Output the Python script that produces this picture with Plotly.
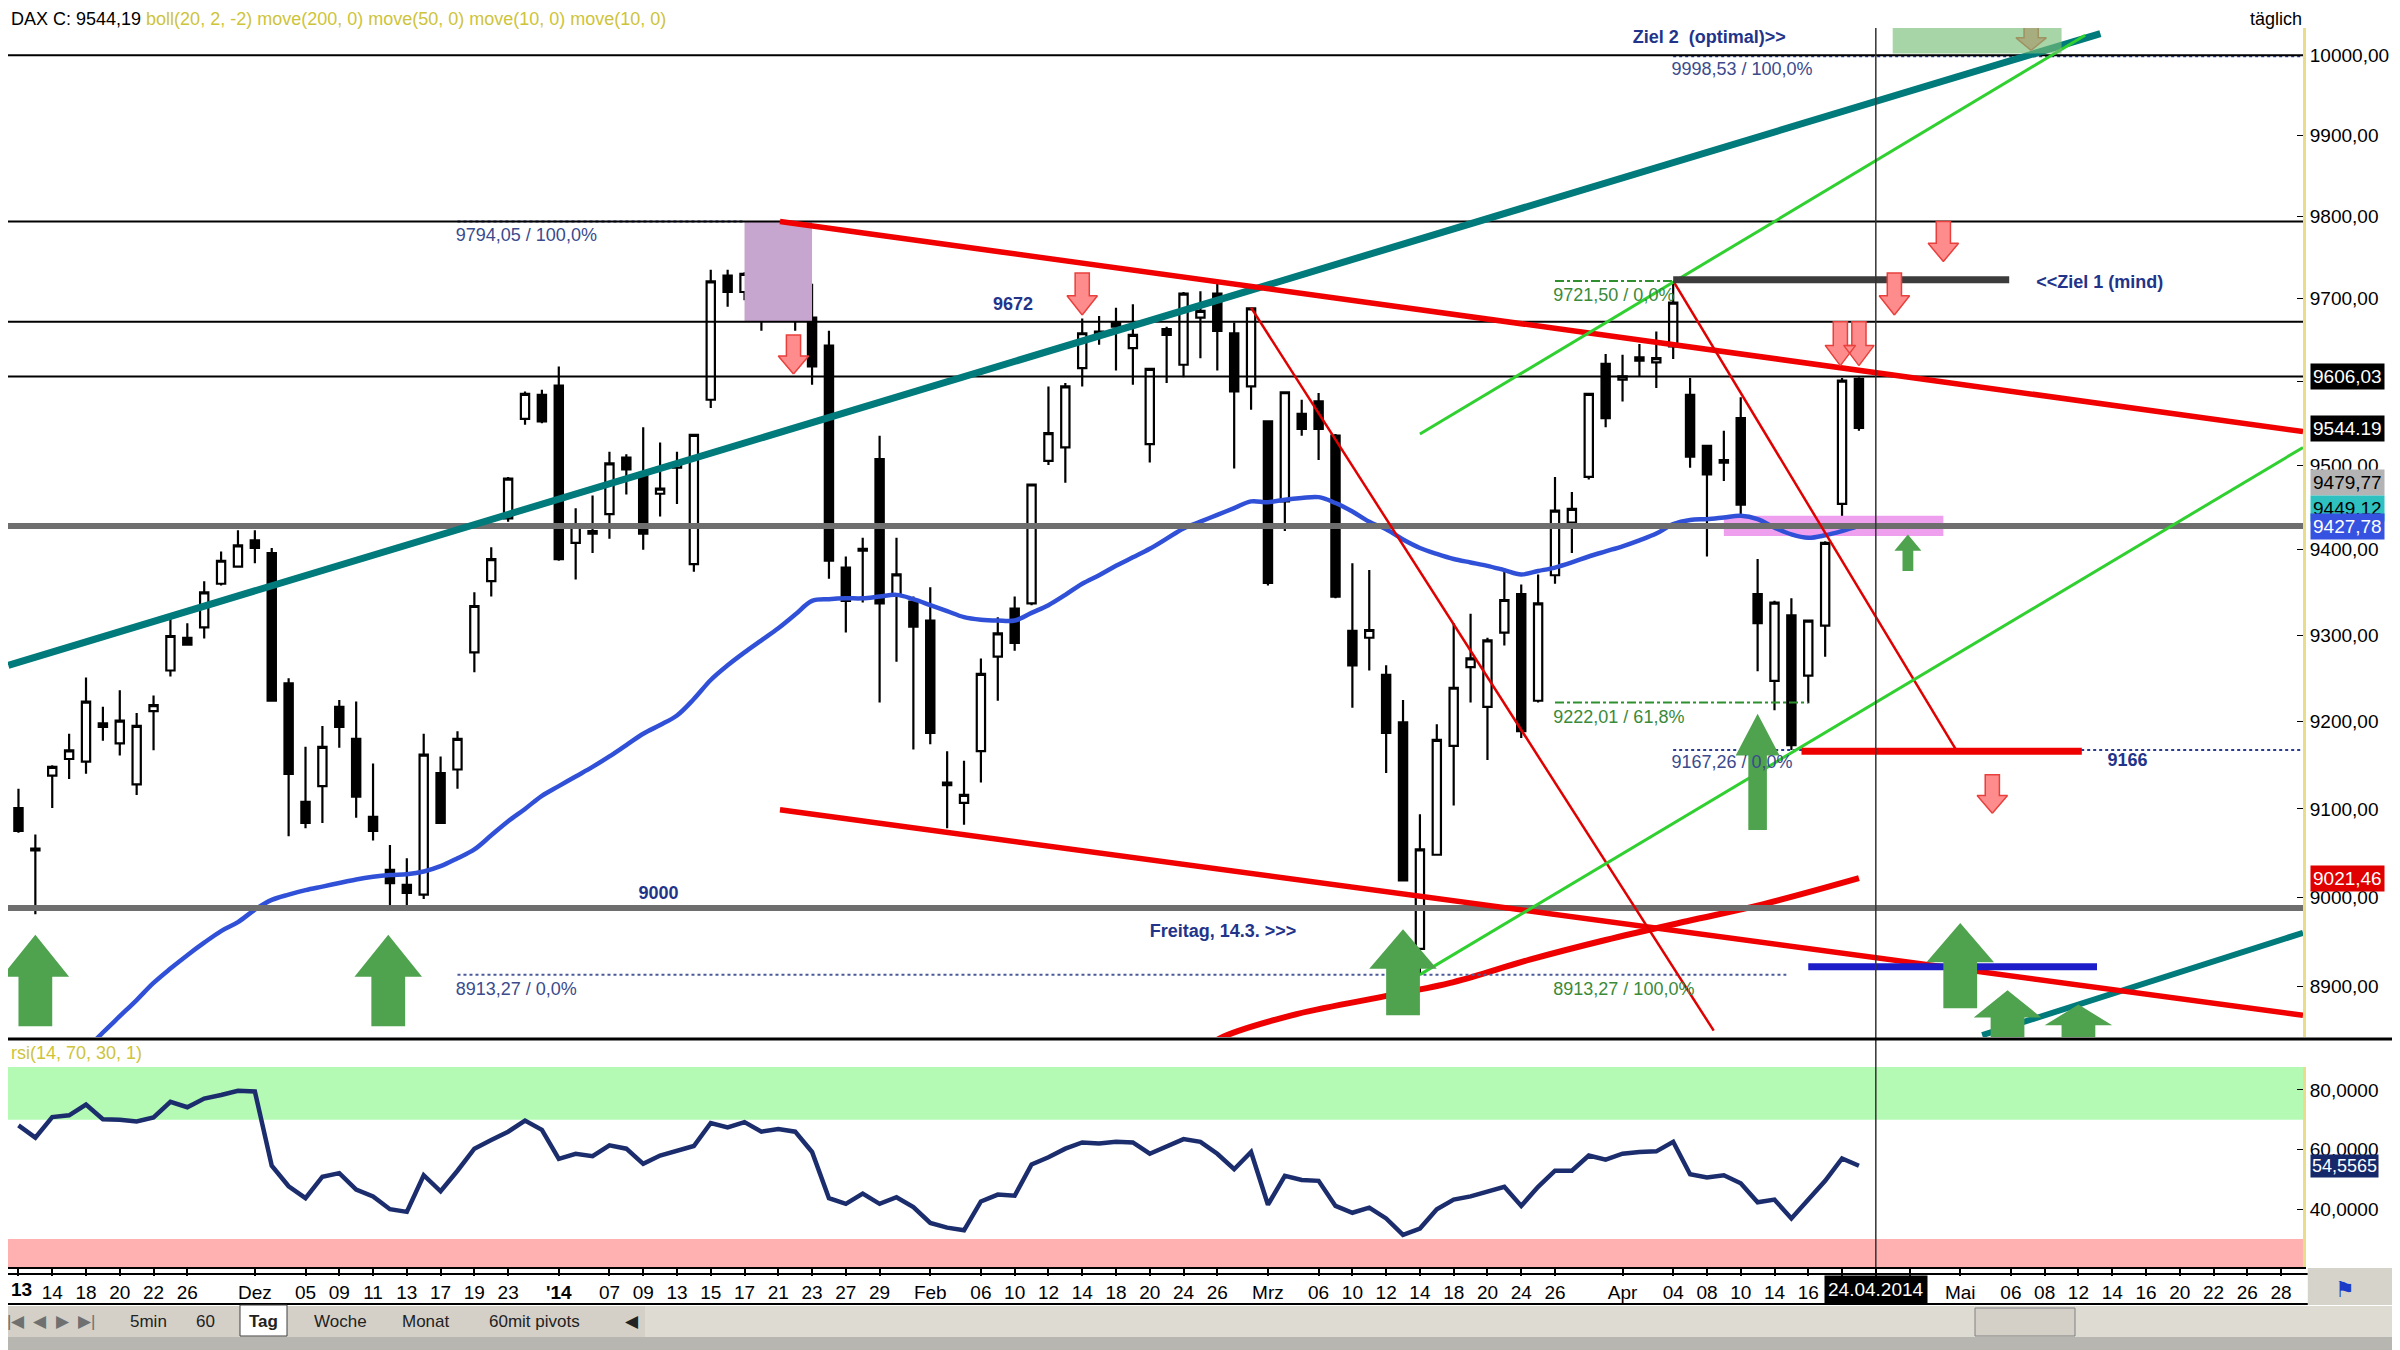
import numpy as np
import pandas as pd
import plotly.graph_objects as go

W, H = 2400, 1350
OFF = 8                      # page margin of the html body
FW, FH = W - OFF, H - OFF
FONT = "Liberation Sans Narrow, Arial Narrow, Liberation Sans, Arial, sans-serif"

# trading days on the chart (future part shown as plain weekdays)
holidays = ['2013-12-24', '2013-12-25', '2013-12-26', '2013-12-31', '2014-01-01',
            '2014-04-18', '2014-04-21']
days = pd.bdate_range('2013-11-12', '2014-05-30')
days = days[~days.isin(pd.to_datetime(holidays))]
pos = {d.strftime('%Y-%m-%d'): i for i, d in enumerate(days)}

# daily DAX candles 12.11.2013 - 23.04.2014
opens = [9101, 9055, 9138, 9157, 9154, 9198, 9175, 9128, 9212, 9259, 9297, 9309, 9360, 9380, 9411,
         9396, 9244, 9108, 9126, 9217, 9180, 9091, 9031, 9014, 9003, 9141, 9145, 9280, 9363, 9437,
         9555, 9584, 9595, 9408, 9422, 9442, 9509, 9489, 9466, 9497, 9383, 9578, 9728, 9708, 9704,
         9740, 9740, 9677, 9643, 9379, 9401, 9507, 9347, 9339, 9317, 9130, 9107, 9166, 9275, 9331,
         9337, 9505, 9521, 9616, 9660, 9671, 9640, 9525, 9663, 9620, 9677, 9706, 9658, 9594, 9552,
         9457, 9561, 9576, 9535, 9305, 9297, 9254, 9199, 8942, 9048, 9172, 9263, 9217, 9303, 9348,
         9224, 9370, 9432, 9486, 9621, 9602, 9625, 9623, 9642, 9584, 9523, 9503, 9556, 9348, 9247,
         9323, 9253, 9311, 9454, 9603]
highs = [9123, 9071, 9150, 9186, 9251, 9217, 9236, 9210, 9230, 9320, 9314, 9363, 9398, 9423, 9423,
         9402, 9250, 9171, 9195, 9225, 9223, 9152, 9059, 9044, 9186, 9160, 9189, 9350, 9403, 9486,
         9588, 9590, 9618, 9449, 9464, 9516, 9513, 9545, 9527, 9516, 9537, 9735, 9735, 9732, 9721,
         9794, 9766, 9718, 9661, 9392, 9414, 9535, 9414, 9345, 9356, 9166, 9155, 9273, 9321, 9345,
         9478, 9594, 9598, 9676, 9679, 9689, 9693, 9616, 9666, 9708, 9709, 9722, 9671, 9689, 9553,
         9588, 9578, 9586, 9537, 9384, 9376, 9265, 9225, 9094, 9197, 9314, 9325, 9297, 9378, 9359,
         9371, 9486, 9468, 9585, 9633, 9632, 9645, 9660, 9721.5, 9604, 9524, 9541, 9581, 9389, 9340,
         9343, 9318, 9410, 9604, 9605]
lows = [9073, 8981, 9101, 9134, 9140, 9178, 9161, 9116, 9167, 9252, 9288, 9296, 9358, 9379, 9384,
        9223, 9069, 9078, 9084, 9170, 9090, 9064, 8985, 8991, 8998, 9083, 9123, 9257, 9345, 9433,
        9548, 9550, 9387, 9365, 9396, 9413, 9465, 9400, 9439, 9454, 9374, 9568, 9690, 9698, 9661,
        9702, 9661, 9596, 9366, 9303, 9338, 9222, 9269, 9168, 9174, 9078, 9082, 9130, 9224, 9282,
        9335, 9500, 9479, 9594, 9644, 9613, 9596, 9503, 9598, 9605, 9628, 9613, 9496, 9566, 9358,
        9422, 9535, 9506, 9343, 9216, 9259, 9141, 9018, 8913.27, 9048, 9104, 9222, 9156, 9288, 9181,
        9222, 9360, 9396, 9483, 9545, 9576, 9606, 9592, 9627, 9497, 9392, 9481, 9440, 9258, 9213,
        9167.26, 9221, 9275, 9439, 9541]
closes = [9075, 9053, 9148, 9167, 9223, 9194, 9201, 9195, 9219, 9299, 9289, 9350, 9387, 9405, 9402,
          9224, 9140, 9084, 9171, 9194, 9114, 9075, 9016, 9005, 9162, 9084, 9180, 9334, 9389, 9484,
          9585, 9552, 9389, 9429, 9419, 9502, 9495, 9419, 9472, 9502, 9536, 9721, 9708, 9730, 9700,
          9718, 9708, 9618, 9387, 9340, 9399, 9337, 9371, 9310, 9187, 9127, 9116, 9255, 9302, 9291,
          9477, 9538, 9594, 9658, 9656, 9666, 9656, 9615, 9656, 9706, 9685, 9661, 9588, 9688, 9361,
          9587, 9543, 9543, 9345, 9265, 9306, 9187, 9019, 9054, 9179, 9239, 9273, 9294, 9341, 9189,
          9337, 9446, 9448, 9585, 9556, 9606, 9629, 9628, 9695, 9510, 9489, 9506, 9453, 9314, 9338,
          9173, 9317, 9408, 9601, 9544.19]

rsi = [68.1, 64.0, 70.9, 71.5, 75.1, 70.2, 70.0, 69.4, 70.8, 76.0, 74.2, 77.1, 78.3, 79.7, 79.5,
       54.6, 47.7, 43.7, 50.9, 52.1, 46.6, 44.3, 40.0, 39.1, 51.4, 46.0, 52.9, 60.3, 63.2, 66.0,
       69.7, 66.6, 56.9, 58.6, 57.8, 61.4, 60.3, 55.2, 58.0, 59.7, 61.2, 68.9, 67.4, 69.2, 66.0,
       66.9, 66.0, 59.2, 43.7, 41.8, 45.2, 41.8, 44.0, 40.7, 35.4, 33.8, 32.9, 42.6, 44.9, 44.5,
       55.0, 57.4, 60.3, 62.4, 62.0, 62.6, 62.4, 58.6, 60.9, 63.5, 62.6, 58.6, 53.4, 59.2, 41.5,
       51.2, 49.8, 49.5, 41.1, 38.8, 40.5, 36.9, 31.4, 33.5, 40.0, 43.2, 44.3, 46.0, 47.5, 41.1,
       47.5, 52.9, 52.9, 58.0, 56.6, 58.6, 59.2, 59.4, 62.6, 51.7, 50.6, 51.4, 48.7, 42.3, 43.2,
       36.9, 43.2, 49.5, 57.0, 54.56]

# move(50) line, starting at candle 4
ma50_start = 4
ma50 = [8830, 8849, 8867, 8885, 8904, 8920, 8935, 8949, 8962, 8972, 8986, 8997, 9003, 9008, 9012,
        9016, 9020, 9023, 9025, 9026, 9029, 9035, 9044, 9054, 9070, 9086, 9100, 9115, 9126, 9137,
        9148, 9160, 9173, 9186, 9196, 9207, 9226, 9248, 9265, 9280, 9294, 9308, 9324, 9340, 9342,
        9343, 9343, 9345, 9347, 9342, 9335, 9328, 9321, 9318, 9317, 9317, 9326, 9335, 9347, 9360,
        9370, 9381, 9391, 9401, 9413, 9425, 9433, 9441, 9449, 9457, 9456, 9459, 9461, 9462, 9455,
        9445, 9433, 9424, 9412, 9402, 9395, 9389, 9385, 9381, 9376, 9371, 9375, 9379, 9385, 9392,
        9398, 9404, 9411, 9419, 9430, 9435, 9436, 9438, 9440, 9436, 9426, 9418, 9414, 9417, 9422,
        9428]
# move(200) line (only its top end is visible)
ma200_x = [70, 71.1, 75.4, 80.6, 85, 89.5, 94, 98.8, 103.3, 109]
ma200_y = [8826, 8842, 8868, 8888, 8905, 8930, 8952, 8973, 8992, 9021.46]

# drawn trend lines (x in trading-day index, y in points)
teal_x, teal_y = [-0.6, 123.3], [9265, 10027]
teal2_x, teal2_y = [116.3, 135.3], [8846, 8960]
red_up_x, red_up_y = [45.1, 135.3], [9794, 9540]
red_lo_x, red_lo_y = [45.1, 135.3], [9099, 8868]
red_thin1_x, red_thin1_y = [73, 100.4], [9689, 8851]
red_thin2_x, red_thin2_y = [98, 114.8], [9721.5, 9166]
green_up_x, green_up_y = [83, 122.4], [9537, 10025]
green_lo_x, green_lo_y = [83, 135.3], [8913.27, 9521]

black_levels = [10000, 9794.05, 9672, 9606.03]
gray_levels = [9428, 8988]

fib_x0 = [26, 26, 98, 98, 91, 91]
fib_x1 = [43, 104.7, 135.3, 135.3, 98, 106]
fib_lvl = [9794.05, 8913.27, 9998.53, 9167.26, 9721.5, 9222.01]
fib_col = ['#2b3c8c', '#4a5a9a', '#2b3c8c', '#2b3c8c', '#2f8f2f', '#2f8f2f']

bar_x0 = [98, 105.6, 106]
bar_x1 = [117.9, 122.2, 123.1]
bar_lvl = [9723, 9166, 8922]
bar_col = ['#3c3c3c', '#ee0000', '#1c1cc8']

box_x = {'purple': [43, 47], 'pink': [101, 114], 'green': [111, 121]}
box_y = {'purple': [9672, 9794.05], 'pink': [9416, 9440], 'green': [10002, 10036]}

red_arrow_x = [45.9, 63.0, 107.9, 109.0, 111.1, 114.0, 116.9, 119.2]
red_arrow_tip = [9609, 9680, 9619, 9619, 9680, 9745, 9095, 10006]
red_arrow_tail = [9656, 9731, 9672, 9672, 9731, 9794, 9139, 10040]
green_arrow_x = [1.0, 21.9, 82.0, 115.0, 117.8, 122.0]
green_arrow_tip = [8958, 8958, 8964, 8971, 8896, 8880]
green_arrow_tail = [8856, 8856, 8868, 8876, 8830, 8830]
mid_arrow = (103.0, 9209, 9076)
small_arrow = (111.9, 9418, 9375)

label_text = ['9794,05 / 100,0%', '8913,27 / 0,0%', '9998,53 / 100,0%', '9167,26 / 0,0%',
              '9721,50 / 0,0%', '9222,01 / 61,8%', '8913,27 / 100,0%']
label_x = [25.9, 25.9, 97.9, 97.9, 90.9, 90.9, 90.9]
label_y = [9776, 8896, 9981, 9152, 9703, 9204, 8896]
label_col = ['#3b4b8c'] * 4 + ['#3a8a3a'] * 3

bold_text = ['9000', '9672', '9166', '&lt;&lt;Ziel 1 (mind)', 'Ziel 2  (optimal)&gt;&gt;',
             'Freitag, 14.3. &gt;&gt;&gt;']
bold_x = [37.9, 58.9, 124.9, 119.5, 95.6, 67.0]
bold_y = [9003, 9692, 9154, 9718, 10021, 8960]
bold_pos = ['middle center', 'middle center', 'middle center', 'middle right', 'middle right',
            'middle right']

tag_val = [9606.03, 9544.19, 9479.77, 9449.12, 9427.78, 9021.46]
tag_text = ['9606,03', '9544.19', '9479,77', '9449,12', '9427,78', '9021,46']
tag_bg = ['black', 'black', '#b4b4b4', '#2fc0c0', '#3552e0', '#e00000']
tag_fg = ['white', 'white', 'black', 'black', 'white', 'white']

tick_dates = ['2013-11-12', '2013-11-14', '2013-11-18', '2013-11-20', '2013-11-22', '2013-11-26',
              '2013-12-02', '2013-12-05', '2013-12-09', '2013-12-11', '2013-12-13', '2013-12-17',
              '2013-12-19', '2013-12-23', '2014-01-02', '2014-01-07', '2014-01-09', '2014-01-13',
              '2014-01-15', '2014-01-17', '2014-01-21', '2014-01-23', '2014-01-27', '2014-01-29',
              '2014-02-03', '2014-02-06', '2014-02-10', '2014-02-12', '2014-02-14', '2014-02-18',
              '2014-02-20', '2014-02-24', '2014-02-26', '2014-03-03', '2014-03-06', '2014-03-10',
              '2014-03-12', '2014-03-14', '2014-03-18', '2014-03-20', '2014-03-24', '2014-03-26',
              '2014-04-01', '2014-04-04', '2014-04-08', '2014-04-10', '2014-04-14', '2014-04-16',
              '2014-04-22', '2014-04-24', '2014-04-28', '2014-05-01', '2014-05-06', '2014-05-08',
              '2014-05-12', '2014-05-14', '2014-05-16', '2014-05-20', '2014-05-22', '2014-05-26',
              '2014-05-28']
# first label ('13) is cut at the left edge, written separately below
tick_text = ['', '14', '18', '20', '22', '26', 'Dez', '05', '09', '11', '13', '17', '19',
             '23', "<b>'14</b>", '07', '09', '13', '15', '17', '21', '23', '27', '29', 'Feb', '06',
             '10', '12', '14', '18', '20', '24', '26', 'Mrz', '06', '10', '12', '14', '18', '20',
             '24', '26', 'Apr', '04', '08', '10', '14', '16', '', '', '', 'Mai', '06', '08', '12',
             '14', '16', '20', '22', '26', '28']
cursor_date = '2014-04-24'

price_ticks = list(range(8900, 10001, 100))
price_tick_text = ['' if v == 9600 else '%d,00' % v for v in price_ticks]  # 9600 sits under the crosshair tag
rsi_ticks = [40, 60, 80]


def py(v):
    return 1 - (v - OFF) / FH


def px(v):
    return (v - OFF) / FW


XR = [-0.62, 135.3]
XD = [px(8), px(2303)]
YD_MAIN = [py(1037), py(28)]
YD_RSI = [py(1267), py(1067)]


def block_arrow(xc, tip, tail, head_hw, shaft_hw, head_frac):
    lt, lb = np.log10(tip), np.log10(tail)
    neck = 10 ** (lt + (lb - lt) * head_frac)
    xs = [xc, xc + head_hw, xc + shaft_hw, xc + shaft_hw, xc - shaft_hw, xc - shaft_hw, xc - head_hw, xc, None]
    ys = [tip, neck, neck, tail, tail, neck, neck, tip, None]
    return xs, ys


fig = go.Figure()

def seg(x, y, color, width, dash='solid', shape='linear'):
    fig.add_trace(go.Scatter(x=x, y=y, mode='lines', line=dict(color=color, width=width, dash=dash, shape=shape),
                             hoverinfo='skip', xaxis='x', yaxis='y'))

def box(name, color, opacity=1.0):
    x0, x1 = box_x[name]
    y0, y1 = box_y[name]
    fig.add_trace(go.Scatter(x=[x0, x1, x1, x0, x0], y=[y0, y0, y1, y1, y0], mode='lines', fill='toself',
                             fillcolor=color, line=dict(width=0), opacity=opacity, hoverinfo='skip',
                             xaxis='x', yaxis='y'))

box('purple', 'rgb(198,166,206)')
box('pink', 'rgb(238,160,238)')

# moving averages
seg(list(range(ma50_start, ma50_start + len(ma50))), ma50, '#3050d8', 4.5, shape='spline')
seg(ma200_x, ma200_y, '#ee0000', 6, shape='spline')

# fib lines
for x0, x1, lv, c in zip(fib_x0, fib_x1, fib_lvl, fib_col):
    seg([x0, x1], [lv, lv], c, 2, dash='dot' if c != '#2f8f2f' else 'dashdot')

fig.add_trace(go.Candlestick(
    x=list(range(len(opens))), open=opens, high=highs, low=lows, close=closes,
    increasing=dict(line=dict(color='black', width=2.2), fillcolor='white'),
    decreasing=dict(line=dict(color='black', width=2.2), fillcolor='black'),
    whiskerwidth=0, hoverinfo='skip', xaxis='x', yaxis='y'))

for lv in gray_levels:
    seg(XR, [lv, lv], '#6e6e6e', 6)
for lv in black_levels:
    seg(XR, [lv, lv], 'black', 2)

# trend lines
seg(teal_x, teal_y, '#007a7a', 7)
seg(teal2_x, teal2_y, '#007a7a', 6)
seg(red_up_x, red_up_y, '#f00000', 5.5)
seg(red_lo_x, red_lo_y, '#f00000', 5.5)
seg(red_thin1_x, red_thin1_y, '#e00000', 2.5)
seg(red_thin2_x, red_thin2_y, '#e00000', 2.5)
seg(green_up_x, green_up_y, '#2fd02f', 3)
seg(green_lo_x, green_lo_y, '#2fd02f', 3)

for x0, x1, lv, c in zip(bar_x0, bar_x1, bar_lvl, bar_col):
    seg([x0, x1], [lv, lv], c, 7)

# arrows
ax, ay = [], []
for xc, t, b in zip(red_arrow_x, red_arrow_tip, red_arrow_tail):
    xs, ys = block_arrow(xc, t, b, 0.9, 0.42, 0.46)
    ax += xs
    ay += ys
fig.add_trace(go.Scatter(x=ax, y=ay, mode='lines', fill='toself', fillcolor='#ff8c8c',
                         line=dict(color='#e8403c', width=1.5), hoverinfo='skip', xaxis='x', yaxis='y'))
gx, gy = [], []
for xc, t, b in zip(green_arrow_x, green_arrow_tip, green_arrow_tail):
    xs, ys = block_arrow(xc, t, b, 2.0, 1.0, 0.46)
    gx += xs
    gy += ys
xs, ys = block_arrow(*mid_arrow, 1.3, 0.55, 0.36)
gx += xs
gy += ys
xs, ys = block_arrow(*small_arrow, 0.8, 0.32, 0.45)
gx += xs
gy += ys
fig.add_trace(go.Scatter(x=gx, y=gy, mode='lines', fill='toself', fillcolor='#4fa34f',
                         line=dict(width=0), hoverinfo='skip', xaxis='x', yaxis='y'))

box('green', 'rgb(120,190,120)', opacity=0.65)

# texts
fig.add_trace(go.Scatter(x=label_x, y=label_y, mode='text', text=label_text, textposition='middle right',
                         textfont=dict(family=FONT, size=18, color=label_col), hoverinfo='skip',
                         xaxis='x', yaxis='y'))
fig.add_trace(go.Scatter(x=bold_x, y=bold_y, mode='text', text=['<b>%s</b>' % t for t in bold_text],
                         textposition=bold_pos, textfont=dict(family=FONT, size=18, color='#22348a'),
                         hoverinfo='skip', xaxis='x', yaxis='y'))

# rsi panel
fig.add_trace(go.Scatter(x=list(range(len(rsi))), y=rsi, mode='lines', line=dict(color='#1b2d6d', width=4.5),
                         hoverinfo='skip', xaxis='x2', yaxis='y2'))

shapes = [
    dict(type='rect', xref='x2', yref='y2', x0=XR[0], x1=XR[1], y0=70, y1=87.7,
         fillcolor='rgb(180,250,180)', line=dict(width=0), layer='below'),
    dict(type='rect', xref='x2', yref='y2', x0=XR[0], x1=XR[1], y0=20.6, y1=30,
         fillcolor='rgb(255,176,176)', line=dict(width=0), layer='below'),
    # cursor
    dict(type='line', xref='x', yref='paper', x0=pos[cursor_date], x1=pos[cursor_date],
         y0=YD_RSI[0], y1=YD_MAIN[1], line=dict(color='#333333', width=1.5)),
    # panel separator
    dict(type='line', xref='paper', yref='paper', x0=0, x1=1, y0=py(1039), y1=py(1039),
         line=dict(color='black', width=3)),
    # date row frame
    dict(type='line', xref='paper', yref='paper', x0=0, x1=XD[1] + 0.002, y0=py(1274), y1=py(1274),
         line=dict(color='black', width=2)),
    dict(type='rect', xref='paper', yref='paper', x0=XD[1] + 0.002, x1=1, y0=py(1305), y1=py(1268),
         fillcolor='#d6d3cb', line=dict(width=0)),
    dict(type='line', xref='paper', yref='paper', x0=0, x1=XD[1] + 0.002, y0=py(1304), y1=py(1304),
         line=dict(color='black', width=2)),
    # tab bar
    dict(type='rect', xref='paper', yref='paper', x0=0, x1=1, y0=py(1337), y1=py(1306),
         fillcolor='#dedbd3', line=dict(width=0)),
    dict(type='rect', xref='paper', yref='paper', x0=0, x1=1, y0=0, y1=py(1337),
         fillcolor='#b8b6b0', line=dict(width=0)),
    dict(type='rect', xref='paper', yref='paper', x0=0, x1=px(645), y0=py(1337), y1=py(1306),
         fillcolor='#d4d0c8', line=dict(width=0)),
    dict(type='rect', xref='paper', yref='paper', x0=px(240), x1=px(287), y0=py(1336), y1=py(1305),
         fillcolor='white', line=dict(color='#404040', width=1)),
    dict(type='rect', xref='paper', yref='paper', x0=px(1975), x1=px(2075), y0=py(1336), y1=py(1308),
         fillcolor='#d4d0c8', line=dict(color='#808080', width=1)),
]

annotations = [
    dict(xref='paper', yref='paper', x=px(9), y=py(19), xanchor='left', yanchor='middle', showarrow=False,
         text="DAX C: 9544,19 <span style='color:#cdc43a'>boll(20, 2, -2) move(200, 0) move(50, 0) "
              "move(10, 0) move(10, 0)</span>",
         font=dict(family=FONT, size=18, color='black')),
    dict(xref='paper', yref='paper', x=px(2276), y=py(19), xanchor='center', yanchor='middle', showarrow=False,
         text='täglich', font=dict(family=FONT, size=18, color='black')),
    dict(xref='paper', yref='paper', x=px(9), y=py(1053), xanchor='left', yanchor='middle', showarrow=False,
         text='rsi(14, 70, 30, 1)', font=dict(family=FONT, size=18, color='#cdc43a')),
    dict(xref='paper', yref='paper', x=px(9), y=py(1289), xanchor='left', yanchor='middle', showarrow=False,
         text='<b>13</b>', font=dict(family=FONT, size=19, color='black')),
    dict(xref='x2', yref='paper', x=pos[cursor_date], y=py(1289), xanchor='center', yanchor='middle',
         showarrow=False, text='24.04.2014', bgcolor='black', borderpad=3,
         font=dict(family=FONT, size=19, color='white')),
    dict(xref='paper', yref='paper', x=px(2345), y=py(1289), xanchor='center', yanchor='middle',
         showarrow=False, text='⚑', font=dict(size=22, color='#1c3cc8')),
]
for v, t, bg, fg in zip(tag_val, tag_text, tag_bg, tag_fg):
    annotations.append(dict(xref='paper', yref='y', x=px(2310), y=np.log10(v), xanchor='left',
                            yanchor='middle', showarrow=False, text=t, bgcolor=bg, borderpad=2,
                            font=dict(family=FONT, size=19, color=fg)))
annotations.append(dict(xref='paper', yref='y2', x=px(2310), y=rsi[-1], xanchor='left', yanchor='middle',
                        showarrow=False, text='54,5565', bgcolor='#15286a', borderpad=1,
                        font=dict(family=FONT, size=18, color='white')))

tabs = ['|◀', '◀', '▶', '▶|', '5min', '60', '<b>Tag</b>', 'Woche', 'Monat', '60mit pivots', '◀']
tab_x = [16, 40, 63, 86, 148, 205, 263, 340, 426, 534, 632]
for t, x in zip(tabs, tab_x):
    annotations.append(dict(xref='paper', yref='paper', x=px(x), y=py(1321), xanchor='center',
                            yanchor='middle', showarrow=False, text=t,
                            font=dict(family=FONT, size=17, color='#222222' if x > 100 else '#707070')))

fig.update_layout(
    width=FW, height=FH, margin=dict(l=0, r=0, t=0, b=0), template='none',
    paper_bgcolor='white', plot_bgcolor='white', showlegend=False,
    font=dict(family=FONT, size=18, color='black'),
    shapes=shapes, annotations=annotations,
    xaxis=dict(domain=XD, range=XR, anchor='y', showticklabels=False, showgrid=False, zeroline=False,
               ticks='', rangeslider=dict(visible=False), fixedrange=True),
    yaxis=dict(domain=YD_MAIN, type='log', range=[np.log10(8844), np.log10(10034)], anchor='x',
               side='right', tickvals=price_ticks, ticktext=price_tick_text,
               ticks='inside', ticklen=6, tickcolor='black', showline=True, linecolor='#e9dc8a',
               linewidth=3, showgrid=False, zeroline=False, tickfont=dict(family=FONT, size=19)),
    xaxis2=dict(domain=XD, range=XR, anchor='y2', matches='x', tickvals=[pos[d] for d in tick_dates],
                ticktext=tick_text, ticks='outside', ticklen=7, tickwidth=1.5, tickcolor='black',
                showline=True, linecolor='black', linewidth=2, showgrid=False, zeroline=False,
                tickangle=0, tickfont=dict(family=FONT, size=19, color='black')),
    yaxis2=dict(domain=YD_RSI, range=[20.6, 87.7], anchor='x2', side='right', tickvals=rsi_ticks,
                ticktext=['%d,0000' % v for v in rsi_ticks], ticks='inside', ticklen=6, tickcolor='black',
                showline=True, linecolor='#e9dc8a', linewidth=3, showgrid=False, zeroline=False,
                tickfont=dict(family=FONT, size=19)),
)

fig.write_html("out.html")
